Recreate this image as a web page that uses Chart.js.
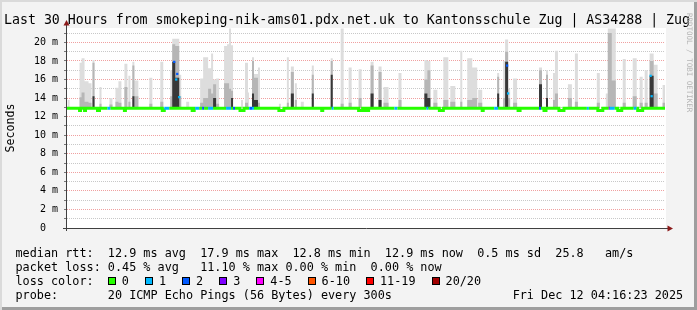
<!DOCTYPE html>
<html>
<head>
<meta charset="utf-8">
<script src="https://cdn.jsdelivr.net/npm/chart.js@4.4.1/dist/chart.umd.min.js"></script>
<style>
  body { margin: 0; background: #f3f3f3; }
  #wrap {
    position: relative; width: 697px; height: 310px; overflow: hidden;
    background: #f3f3f3;
    box-shadow: inset 2px 2px 0 #dadada, inset -3px -3px 0 #9e9e9e;
    font-family: 'DejaVu Sans Mono', monospace; color: #000;
  }
  #chart { position: absolute; left: 0; top: 0; }
  #title { position: absolute; left: 4px; top: 11.5px; font-size: 13.25px; line-height: 16px; white-space: pre; }
  #legend { position: absolute; left: 15.5px; top: 247.3px; font-size: 11.8px; line-height: 13.9px; white-space: pre; }
  .box { display: inline-block; width: 6px; height: 6px; border: 1px solid #000; margin-right: 6px; }
  .lab { margin-right: 16px; }
  #rrd { position: absolute; left: 684.5px; top: 13px; font-size: 7.5px; line-height: 8px; writing-mode: vertical-rl; color: #b5b5b5; white-space: pre; }
</style>
</head>
<body>
<div id="wrap">
  <canvas id="chart" width="697" height="310"></canvas>
  <div id="title">Last 30 Hours from smokeping-nik-ams01.pdx.net.uk to Kantonsschule Zug | AS34288 | Zug</div>
  <div id="rrd">RRDTOOL / TOBI OETIKER</div>
  <div id="legend"></div>
</div>
<script>
// time axis in hours relative to Thu 00:00, values in milliseconds
var xMin = -1.73;
var xMax = 28.27;
var yMax = 21.55;
var base = 12.9;

// smoke spikes (start hour, end hour, max / inner / core ping levels)
var smokeFrom = [-1.70, -1.10, -1.00, -0.85, -0.65, -0.45, -0.10, 0.40, 0.70, 0.85,
  1.15, 1.35, 1.55, 1.65, 2.40, 2.95, 3.45, 3.55, 3.70, 3.90,
  4.25, 4.95, 5.10, 5.35, 5.50, 5.60, 5.75, 6.15, 6.30, 6.40,
  6.50, 7.00, 7.20, 7.35, 7.55, 7.65, 7.85, 8.90, 9.30, 9.50,
  9.70, 10.00, 10.55, 11.50, 12.00, 12.40, 12.90, 13.50, 13.90, 14.15,
  14.90, 16.20, 16.35, 16.65, 17.15, 17.50, 18.00, 18.35, 18.60, 18.90,
  19.85, 20.15, 20.25, 20.40, 20.65, 21.95, 22.30, 22.65, 22.75, 23.40,
  23.75, 24.85, 25.30, 25.40, 25.60, 26.15, 26.65, 27.00, 27.25, 27.50,
  27.70, 28.15];
var smokeTo = [-1.60, -1.00, -0.85, -0.65, -0.50, -0.35, 0.00, 0.55, 0.85, 1.00,
  1.30, 1.45, 1.65, 1.85, 2.55, 3.10, 3.55, 3.70, 3.90, 4.00,
  4.40, 5.10, 5.35, 5.50, 5.60, 5.75, 5.90, 6.30, 6.40, 6.50,
  6.60, 7.10, 7.35, 7.40, 7.65, 7.85, 7.95, 9.00, 9.40, 9.65,
  9.80, 10.15, 10.65, 11.60, 12.15, 12.55, 13.05, 13.65, 14.05, 14.40,
  15.05, 16.35, 16.50, 16.85, 17.40, 17.75, 18.10, 18.60, 18.85, 19.10,
  19.95, 20.25, 20.40, 20.50, 20.85, 22.10, 22.40, 22.75, 22.90, 23.60,
  23.90, 25.00, 25.40, 25.60, 25.80, 26.30, 26.85, 27.15, 27.40, 27.70,
  27.90, 28.27];
var smokeMax = [13.8, 17.8, 18.3, 15.8, 15.6, 18.1, 15.2, 14.0, 15.1, 15.8,
  17.7, 16.4, 17.9, 15.9, 16.2, 17.9, 17.0, 20.4, 20.4, 16.5,
  13.6, 16.1, 18.4, 17.2, 18.8, 16.0, 16.1, 19.6, 19.8, 21.5,
  19.7, 13.8, 17.8, 14.6, 18.4, 16.6, 17.3, 13.4, 18.4, 17.4,
  15.6, 13.6, 17.5, 18.3, 21.5, 17.3, 17.1, 17.9, 17.4, 15.2,
  16.7, 18.1, 18.0, 14.9, 18.4, 15.3, 19.1, 18.3, 17.3, 14.9,
  16.7, 18.0, 20.3, 15.0, 16.1, 17.3, 17.0, 16.7, 19.1, 15.5,
  18.8, 16.7, 14.5, 21.5, 21.5, 18.2, 18.3, 16.3, 17.0, 18.8,
  17.6, 15.4];
var smokeMid = [0, 14.1, 14.6, 13.6, 13.5, 17.8, 13.4, 13.3, 13.6, 13.5,
  15.2, 13.6, 17.5, 14.2, 13.4, 13.6, 14.2, 19.8, 19.6, 14.2,
  0, 13.5, 14.0, 15.0, 14.5, 15.5, 13.4, 15.6, 15.6, 15.0,
  14.8, 0, 13.5, 0, 18.0, 16.2, 13.5, 0, 13.5, 16.8,
  13.8, 0, 16.5, 18.0, 13.4, 13.5, 14.0, 17.5, 16.8, 13.5,
  13.8, 16.0, 17.0, 13.5, 13.8, 13.6, 13.6, 13.8, 14.0, 13.5,
  16.3, 14.0, 19.0, 14.0, 13.5, 17.0, 16.5, 13.8, 14.5, 14.0,
  13.6, 13.5, 0, 21.0, 15.9, 13.5, 14.2, 13.5, 13.5, 18.0,
  14.5, 13.5];
var smokeCore = [0, 0, 0, 0, 0, 14.2, 0, 0, 0, 0,
  0, 0, 14.2, 0, 0, 0, 0, 17.9, 16.2, 0,
  0, 0, 0, 0, 0, 14.0, 0, 0, 0, 0,
  14.0, 0, 0, 0, 14.5, 13.8, 0, 0, 0, 14.5,
  0, 0, 14.5, 16.5, 0, 0, 0, 14.5, 13.8, 0,
  0, 14.5, 14.0, 0, 0, 0, 0, 0, 0, 0,
  14.5, 0, 17.9, 0, 0, 15.5, 14.0, 0, 0, 0,
  0, 0, 0, 0, 0, 0, 0, 0, 0, 16.4,
  0, 0];

// median rtt deviations from the base line, with packets lost
var medFrom = [-1.10, -0.85, -0.20, 0.30, 1.15, 3.05, 3.15, 4.55, 4.70, 5.05,
  5.35, 6.25, 6.60, 6.95, 7.40, 7.45, 7.55, 8.90, 11.05, 11.55,
  12.90, 13.25, 14.70, 16.30, 16.95, 19.10, 19.70, 20.90, 21.95, 22.20,
  22.95, 24.35, 24.90, 25.45, 25.50, 25.90, 26.70, 26.90];
var medTo = [-1.05, -0.80, -0.10, 0.45, 1.20, 3.15, 3.40, 4.65, 4.90, 5.15,
  5.60, 6.50, 6.70, 7.15, 7.45, 7.55, 7.65, 9.15, 11.10, 11.65,
  13.10, 13.40, 14.85, 16.40, 17.15, 19.15, 19.90, 21.00, 22.05, 22.30,
  23.20, 24.45, 25.15, 25.50, 25.75, 26.10, 26.85, 27.15];
var medValue = [12.65, 12.65, 12.65, 12.9, 12.65, 12.65, 12.9, 12.65, 12.9, 12.9,
  12.9, 12.9, 12.9, 12.65, 12.9, 12.9, 12.9, 12.65, 12.65, 12.9,
  12.65, 12.65, 12.9, 12.9, 12.65, 12.65, 12.9, 12.65, 12.9, 12.65,
  12.65, 12.9, 12.65, 12.9, 12.9, 12.65, 12.9, 12.65];
var medLoss = [0, 0, 0, 1, 0, 0, 1, 0, 1, 2,
  1, 1, 2, 0, 1, 2, 1, 0, 0, 1,
  0, 0, 1, 1, 0, 0, 1, 0, 2, 0,
  0, 1, 0, 3, 1, 0, 1, 0];

// medians that rose inside the large spikes
var spikeMedT = [3.65, 3.75, 3.80, 3.90, 20.35, 20.40, 27.55, 27.60];
var spikeMedV = [17.9, 16.0, 16.6, 14.1, 17.5, 14.5, 16.4, 14.2];
var spikeMedLoss = [2, 1, 2, 1, 2, 1, 1, 1];

var lossLabels = ['0', '1', '2', '3', '4-5', '6-10', '11-19', '20/20'];
var lossColors = ['#26ff00', '#00b8ff', '#0059ff', '#7e00ff', '#ff00ff', '#ff5500', '#ff0000', '#a10000'];

var statsLine = 'median rtt:  12.9 ms avg  17.9 ms max  12.8 ms min  12.9 ms now  0.5 ms sd  25.8   am/s';
var lossLine = 'packet loss: 0.45 % avg   11.10 % max 0.00 % min  0.00 % now';
var probeLine = 'probe:       20 ICMP Echo Pings (56 Bytes) every 300s                 Fri Dec 12 04:16:23 2025';

// legend text
var legend = document.getElementById('legend');
var html = statsLine + '\n' + lossLine + '\nloss color:  ';
lossLabels.forEach(function (l, i) {
  html += '<span class="box" style="background:' + lossColors[i] + '"></span><span class="lab">' + l + '</span>';
});
html += '\n' + probeLine;
legend.innerHTML = html;

function layer(tops) {
  var pts = [{ x: xMin, y: base }];
  smokeFrom.forEach(function (f, i) {
    pts.push({ x: f, y: tops[i] > base ? tops[i] : base });
    pts.push({ x: smokeTo[i], y: base });
  });
  pts.push({ x: xMax, y: base });
  return pts;
}

var medPts = [{ x: xMin, y: base }];
var medPtLoss = [0];
medFrom.forEach(function (f, i) {
  medPts.push({ x: f, y: medValue[i] });
  medPtLoss.push(medLoss[i]);
  medPts.push({ x: medTo[i], y: base });
  medPtLoss.push(0);
});
medPts.push({ x: xMax, y: base });
medPtLoss.push(0);

var spikePts = spikeMedT.map(function (t, i) { return { x: t, y: spikeMedV[i] }; });

function isInt(v) { return Math.abs(v - Math.round(v)) < 1e-6; }

var frame = {
  id: 'frame',
  beforeDraw: function (chart) {
    var c = chart.ctx, a = chart.chartArea;
    c.save();
    c.fillStyle = '#ffffff';
    c.fillRect(a.left, a.top, a.right - a.left + 1, a.bottom - a.top);
    c.restore();
  },
  afterDraw: function (chart) {
    var c = chart.ctx, a = chart.chartArea;
    c.save();
    c.strokeStyle = '#404040';
    c.lineWidth = 1;
    c.beginPath();
    c.moveTo(a.left - 0.5, a.bottom + 3);
    c.lineTo(a.left - 0.5, a.top - 5);
    c.moveTo(a.left - 4, a.bottom + 0.5);
    c.lineTo(a.right + 5, a.bottom + 0.5);
    c.stroke();
    c.fillStyle = '#8b1a1a';
    c.beginPath();
    c.moveTo(a.left - 0.5, a.top - 8);
    c.lineTo(a.left - 3.5, a.top - 2.5);
    c.lineTo(a.left + 2.5, a.top - 2.5);
    c.closePath();
    c.fill();
    c.beginPath();
    c.moveTo(a.right + 8, a.bottom + 0.5);
    c.lineTo(a.right + 2.5, a.bottom - 2.5);
    c.lineTo(a.right + 2.5, a.bottom + 3.5);
    c.closePath();
    c.fill();
    c.restore();
  }
};

Chart.defaults.font.family = "'DejaVu Sans Mono', monospace";
Chart.defaults.color = '#000';

new Chart(document.getElementById('chart').getContext('2d'), {
  type: 'line',
  data: {
    datasets: [
      {
        data: spikePts, showLine: false, pointStyle: 'rect', pointRadius: 1.6, pointBorderWidth: 0,
        pointBackgroundColor: spikeMedLoss.map(function (l) { return lossColors[l]; })
      },
      {
        data: medPts, stepped: true, borderWidth: 3, pointRadius: 0, fill: false,
        borderColor: lossColors[0], borderCapStyle: 'butt',
        segment: { borderColor: function (c) { return lossColors[medPtLoss[c.p0DataIndex]]; } }
      },
      {
        data: layer(smokeCore), stepped: true, borderWidth: 0, borderColor: 'rgba(0,0,0,0)',
        pointRadius: 0, fill: { value: base }, backgroundColor: '#383838'
      },
      {
        data: layer(smokeMid), stepped: true, borderWidth: 0, borderColor: 'rgba(0,0,0,0)',
        pointRadius: 0, fill: { value: base }, backgroundColor: '#b6b6b6'
      },
      {
        data: layer(smokeMax), stepped: true, borderWidth: 0, borderColor: 'rgba(0,0,0,0)',
        pointRadius: 0, fill: { value: base }, backgroundColor: '#dddddd'
      }
    ]
  },
  options: {
    responsive: false,
    animation: false,
    devicePixelRatio: 1,
    layout: { padding: { left: 0, top: 28, right: 32, bottom: 0 } },
    plugins: { legend: { display: false }, tooltip: { enabled: false } },
    scales: {
      x: {
        type: 'linear', min: xMin, max: xMax,
        afterFit: function (s) { s.height = 82; },
        border: { display: false, dash: [1, 1] },
        grid: {
          color: function (c) {
            var v = c.tick.value;
            if (!isInt(v)) return 'rgba(0,0,0,0)';
            return Math.round(v) % 3 === 0 ? '#f0a0a0' : '#c8c8c8';
          },
          tickLength: 3, tickColor: 'rgba(0,0,0,0)'
        },
        ticks: {
          stepSize: 1, includeBounds: false, autoSkip: false, maxRotation: 0, minRotation: 0,
          maxTicksLimit: 100, padding: 1, font: { size: 10 },
          callback: function (v) {
            if (!isInt(v) || Math.round(v) % 6 !== 0) return '';
            var h = Math.round(v);
            var day = h < 24 ? 'Thu' : 'Fri';
            var hh = ((h % 24) + 24) % 24;
            return day + ' ' + (hh < 10 ? '0' : '') + hh + ':00';
          }
        }
      },
      y: {
        min: 0, max: yMax,
        afterFit: function (s) { s.width = 67; },
        border: { display: false, dash: [1, 1] },
        grid: {
          color: function (c) {
            var v = c.tick.value;
            if (!isInt(v)) return 'rgba(0,0,0,0)';
            return Math.round(v) % 2 === 0 ? '#f0a0a0' : '#c8c8c8';
          },
          tickLength: 3, tickColor: '#777'
        },
        ticks: {
          stepSize: 1, includeBounds: false, autoSkip: false, maxTicksLimit: 100,
          padding: 6, font: { size: 10 },
          callback: function (v) {
            if (!isInt(v) || Math.round(v) % 2 !== 0) return '';
            var n = Math.round(v);
            return n === 0 ? '0  ' : n + ' m';
          }
        },
        title: { display: true, text: 'Seconds', font: { size: 11.6 }, padding: { top: 4, bottom: 0 } }
      }
    }
  },
  plugins: [frame]
});
</script>
</body>
</html>
